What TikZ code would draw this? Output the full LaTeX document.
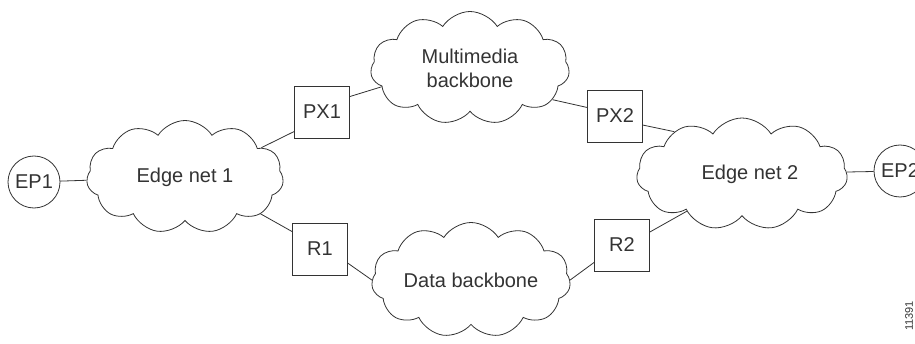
\documentclass[tikz,border=0pt]{standalone}
\usepackage{fontspec}
\setmainfont{Liberation Sans}
\usetikzlibrary{positioning, shapes.symbols}
\tikzset{
    every node/.style={text=black!80, font=\fontsize{20}{24}\selectfont}, % testo grigio scuro
    net/.style={cloud, cloud puffs=11, cloud puff arc=115, cloud ignores aspect, draw=black!80, line width=0.8pt, align=center, inner sep=0pt}, % nuvole
    box/.style={rectangle, draw=black!80, line width=0.8pt, minimum width=55pt, minimum height=52pt}, % gateway e router
    host/.style={circle, draw=black!80, line width=0.8pt, minimum size=52pt, inner sep=0pt}, % endpoint
}
\tikzstyle{link} = [draw=black!80, line width=0.8pt]

\begin{document}
\begin{tikzpicture}[x=1pt, y=1pt, on grid]
        \useasboundingbox (0,0) rectangle (915,343);

        % Nodi
        \node[host] (ep1) at (34,161) {EP1};
        \node[net, minimum width=197pt, minimum height=113pt] (en1) [above right=5pt and 151pt of ep1] {Edge net 1};
        \node[box] (px1) [above right=65pt and 137pt of en1] {PX1};
        \node[net, minimum width=199pt, minimum height=113pt] (mm) [above right=44pt and 148pt of px1] {Multimedia\\backbone};
        \node[box] (px2) [below right=48pt and 145pt of mm] {PX2};
        \node[net, minimum width=211pt, minimum height=112pt] (en2) [below right=58pt and 127pt of px2] {\hspace*{16pt}Edge net 2};
        \node[host] (ep2) [above right=3pt and 158pt of en2] {EP2};
        \node[box] (r1) [below right=72pt and 135pt of en1] {R1};
        \node[net, minimum width=199pt, minimum height=115pt] (db) [below right=31pt and 151pt of r1] {Data backbone};
        \node[box] (r2) [above right=35pt and 151pt of db] {R2};
        \node[rotate=90, anchor=east, inner sep=0pt, font=\fontsize{11}{13}\selectfont] (fig) at (909,42) {11391};

        % Collegamenti
        \path[link]
        (ep1) edge (en1)
        (en1.21) edge (px1.215)
        (px1.29) edge (mm.192)
        (mm.-21) edge (px2.163)
        (px2.-18) edge (en2.148)
        (en1.-26) edge (r1.148)
        (r1.-27) edge (db.west)
        (db.east) edge (r2.212)
        (r2.25) edge (en2.214)
        (en2) edge (ep2);
        \end{tikzpicture}
\end{document}
